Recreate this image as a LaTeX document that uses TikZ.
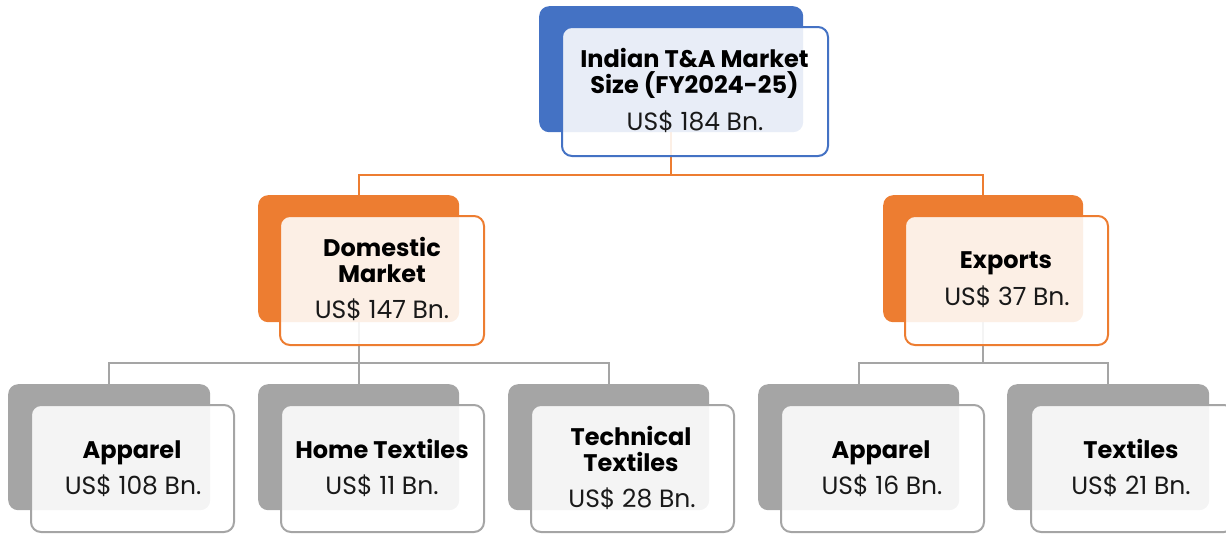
\documentclass[tikz,border=0pt]{standalone}
\usepackage{fontspec}
\setmainfont{Poppins}
\usetikzlibrary{backgrounds}
\definecolor{cblue}{HTML}{4472C4}
\definecolor{corange}{HTML}{ED7D31}
\definecolor{cgray}{HTML}{A5A5A5}
\tikzset{
 backbox/.style={fill=#1, draw=none, rounded corners=10pt, anchor=north west, inner sep=0pt},
 frontbox/.style={draw=#1, line width=2pt, fill=white, fill opacity=0.88, rounded corners=10pt, anchor=north west, inner sep=0pt},
 ttl/.style={font=\fontsize{24}{27}\selectfont\bfseries, text=black, inner sep=0pt, anchor=base},
 val/.style={font=\fontsize{25}{27}\selectfont, text=black!90, inner sep=0pt, anchor=base},
 link/.style={line width=2pt, draw=#1},
}
\begin{document}
\begin{tikzpicture}[x=1pt,y=-1pt]
\useasboundingbox (0,0) rectangle (1226,533);
% back boxes
\node[backbox=cblue, minimum width=264, minimum height=126] (topb) at (539,6) {};
\node[backbox=corange, minimum width=201, minimum height=127] (domb) at (258,195) {};
\node[backbox=corange, minimum width=200, minimum height=127] (expb) at (883,195) {};
\node[backbox=cgray, minimum width=202, minimum height=126] (b1b) at (8,384) {};
\node[backbox=cgray, minimum width=201, minimum height=126] (b2b) at (258,384) {};
\node[backbox=cgray, minimum width=201, minimum height=126] (b3b) at (508,384) {};
\node[backbox=cgray, minimum width=201, minimum height=126] (b4b) at (758,384) {};
\node[backbox=cgray, minimum width=202, minimum height=126] (b5b) at (1007,384) {};
% connectors
\begin{scope}[on background layer]
\path (topb.south) ++(0,43) coordinate (j1);
\draw[link=corange] (topb.south) -- (j1) -| (domb.north);
\draw[link=corange] (j1) -| (expb.north);
\path (domb.south) ++(0,41) coordinate (j2);
\draw[link=cgray] (domb.south) -- (j2) -| (b1b.north);
\draw[link=cgray] (j2) -| (b2b.north);
\draw[link=cgray] (j2) -| (b3b.north);
\path (expb.south) ++(0,41) coordinate (j3);
\draw[link=cgray] (expb.south) -- (j3) -| (b4b.north);
\draw[link=cgray] (j3) -| (b5b.north);
\end{scope}
% front boxes
\node[frontbox=cblue, minimum width=266, minimum height=129] (topf) at (561,26) {};
\node[frontbox=corange, minimum width=204, minimum height=129] (domf) at (279,215) {};
\node[frontbox=corange, minimum width=203, minimum height=129] (expf) at (904,215) {};
\node[frontbox=cgray, minimum width=203, minimum height=127] (b1f) at (30,404) {};
\node[frontbox=cgray, minimum width=203, minimum height=127] (b2f) at (280,404) {};
\node[frontbox=cgray, minimum width=203, minimum height=127] (b3f) at (530,404) {};
\node[frontbox=cgray, minimum width=203, minimum height=127] (b4f) at (780,404) {};
\node[frontbox=cgray, minimum width=203, minimum height=127] (b5f) at (1030,404) {};
% texts
\node[ttl] (topt1) at (694.5,67) {Indian T\&A Market};
\node[ttl] (topt2) at (694.5,93) {Size (FY2024-25)};
\node[val] (topv) at (695,130) {US\$ 184 Bn.};
\node[ttl] (domt1) at (382,256) {Domestic};
\node[ttl] (domt2) at (382,282) {Market};
\node[val] (domv) at (382,318) {US\$ 147 Bn.};
\node[ttl] (expt) at (1006,268) {Exports};
\node[val] (expv) at (1007,305) {US\$ 37 Bn.};
\node[ttl] (b1t) at (132,458) {Apparel};
\node[val] (b1v) at (133,494) {US\$ 108 Bn.};
\node[ttl] (b2t) at (382,458) {Home Textiles};
\node[val] (b2v) at (382,494) {US\$ 11 Bn.};
\node[ttl] (b3t1) at (631,445) {Technical};
\node[ttl] (b3t2) at (631,471) {Textiles};
\node[val] (b3v) at (632,507) {US\$ 28 Bn.};
\node[ttl] (b4t) at (881,458) {Apparel};
\node[val] (b4v) at (882,494) {US\$ 16 Bn.};
\node[ttl] (b5t) at (1131,458) {Textiles};
\node[val] (b5v) at (1131,494) {US\$ 21 Bn.};
\end{tikzpicture}
\end{document}
